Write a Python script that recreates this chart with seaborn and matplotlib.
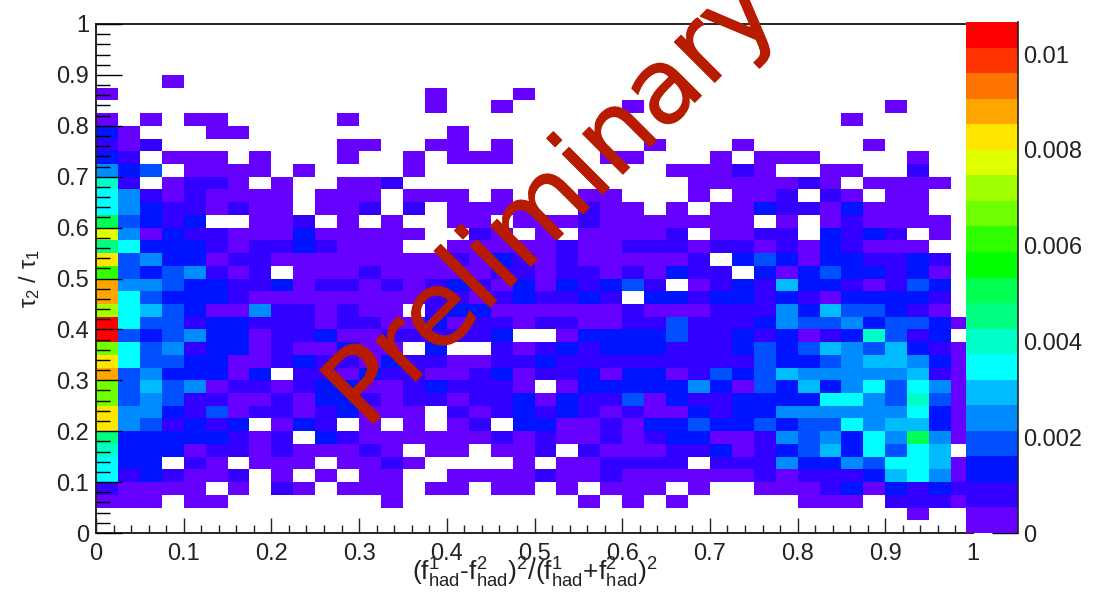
import numpy as np
import matplotlib
matplotlib.use('Agg')
import matplotlib.pyplot as plt
import matplotlib.patheffects as pe
from matplotlib.colors import ListedColormap
import seaborn as sns

# --- DATA ---
# colour band of each bin, top row of the plot first, 40 x 40 bins
# '.' = empty bin, 0-9 and a-j = band 0 to 19 of the palette
level_rows = [
    "." * 40,
    "." * 40,
    "." * 40,
    "." * 40,
    "...0......" ".........." ".........." "..........",
    "0........." ".....0...0" ".........." "..........",
    ".........." ".....0..0." "....0....." "......0...",
    "0.0.00...." ".0........" ".........." "....0.....",
    "20...00..." "......0..." ".........." "..........",
    "101......." ".00..00.0." ".....0...0" ".....0....",
    "21.000.0.." ".0..0.000." "...00...0." "000....0..",
    "423.0000.0" "....0....." "......0001" "0..00..1..",
    "71.0110.0." ".001......" ".......000" "0010.0000.",
    "641010000." "000.000.0." "..00...0.0" "01.10.00..",
    "642110100." "001.1.0000" "..100.0.00" "21102000..",
    "93212..001" ".0.0..00.0" "0010000000" ".0.010000.",
    "e402110002" "00000..10." "0.00001.00" "11.2121.0.",
    "8622210112" "1000..0000" "0100111011" "01021000..",
    "f342201100" "0000001021" "01000001.2" "320221121.",
    "b3234101.0" "0010000011" "011010211." "202322120.",
    "g443221120" "1101012102" "021231.012" "152210132.",
    "g632221000" "0000011012" "1121.22122" "121022221.",
    "d653200411" "0100.12200" "0000100011" "142533210.",
    "j633122111" "0110020110" "1100113111" "2433423320",
    "j323422011" "200111112." ".022223112" "120127312.",
    "c634122010" "0200.2..10" "1212221112" "3235435210",
    "f633220012" "1102110011" "2111111111" "3223455420",
    "g3422202.1" "1021100120" "1120220132" "3544444510",
    "c353401101" "2200121110" ".022222420" "3252463640",
    "c343110010" "2210110112" "0211302112" "2226643730",
    "f442130110" "12000.1012" "1210100212" "2444444620",
    "f431212.02" "1.0.0.01.2" "2001022322" "3233645520",
    "822222101." "2100000010" "1001012200" "1434264940",
    "7222011010" "0010.00.00" "1.10001120" "123526365.",
    "622.10.000" ".0010....0" ".001111.11" "1422436650",
    "6121001.0." "0.00..0000" "1001000000" "1011125640",
    "10000.0.10" ".000.00.00" ".0.000.0.." "0001202121",
    "000.00...." "...0......" "..0.0.0..." "..000.1110",
    ".........." ".........." ".........." ".......0..",
    "." * 40,
]
palette = [
    "#6600ff", "#3300ff", "#0014ff", "#0050ff", "#008cff",
    "#00bcff", "#00ffff", "#00ffc8", "#00ff80", "#00ff50",
    "#00ff00", "#30ff00", "#70ff00", "#a0ff00", "#e0ff00",
    "#ffe600", "#ffa500", "#ff7400", "#ff3300", "#ff0000",
]
z_max = 0.01067
axis_ticks = [0, 0.1, 0.2, 0.3, 0.4, 0.5, 0.6, 0.7, 0.8, 0.9, 1]
axis_labels = ["0", "0.1", "0.2", "0.3", "0.4", "0.5", "0.6", "0.7", "0.8", "0.9", "1"]
minor_ticks = [i / 50 for i in range(51) if i % 5 != 0]
z_ticks = [0, 0.002, 0.004, 0.006, 0.008, 0.01]
z_labels = ["0", "0.002", "0.004", "0.006", "0.008", "0.01"]

# --- STYLE ---
sns.set_style('white')
plt.rcParams['font.family'] = ['Liberation Sans', 'DejaVu Sans']
plt.rcParams['mathtext.fontset'] = 'custom'
plt.rcParams['mathtext.rm'] = 'Liberation Sans'
plt.rcParams['mathtext.it'] = 'Liberation Sans'
plt.rcParams['mathtext.bf'] = 'Liberation Sans'
plt.rcParams['mathtext.fallback'] = 'stixsans'
plt.rcParams['mathtext.default'] = 'regular'

W, H = 1094, 595
DARK = '#222222'
RED = '#b71c00'

# --- HEATMAP ---
codes = "0123456789abcdefghij"
band = z_max / len(palette)
z = np.array([[np.nan if c == '.' else (codes.index(c) + 0.5) * band for c in row]
              for row in level_rows])

fig = plt.figure(figsize=(W / 100, H / 100), dpi=100)
ax = fig.add_axes([96 / W, 1 - 533 / H, 877 / W, 509 / H])
cax = fig.add_axes([966 / W, 1 - 533 / H, 52 / W, 511 / H])

sns.heatmap(z, ax=ax, cbar_ax=cax, cmap=ListedColormap(palette), vmin=0, vmax=z_max,
            xticklabels=False, yticklabels=False,
            cbar_kws={'ticks': z_ticks})

# --- AXES ---
ax.set_axisbelow(False)
for name, spine in ax.spines.items():
    spine.set_visible(name != 'right')
    spine.set_color(DARK)
    spine.set_linewidth(1.4)

ax.set_xticks([40 * v for v in axis_ticks])
ax.set_xticklabels(axis_labels, fontsize=17, color=DARK)
ax.set_xticks([40 * v for v in minor_ticks], minor=True)
ax.set_yticks([40 * (1 - v) for v in axis_ticks])
ax.set_yticklabels(axis_labels, fontsize=17, color=DARK, rotation=0)
ax.set_yticks([40 * (1 - v) for v in minor_ticks], minor=True)
ax.tick_params(axis='x', which='major', bottom=True, direction='in', length=11, width=1, color=DARK, pad=7)
ax.tick_params(axis='x', which='minor', bottom=True, direction='in', length=5.5, width=1, color=DARK)
ax.tick_params(axis='y', which='major', left=True, direction='in', length=19, width=1, color='black', pad=5)
ax.tick_params(axis='y', which='minor', left=True, direction='in', length=10, width=1, color='black')

fig.text(535 / W, 1 - 573 / H,
         r'$(f^{1}_{had}$-$f^{2}_{had})^{2}/(f^{1}_{had}$+$f^{2}_{had})^{2}$',
         fontsize=19, color=DARK, ha='center', va='center')
fig.text(30 / W, 1 - 278 / H, r'$\tau_{2}$ / $\tau_{1}$',
         fontsize=17, color=DARK, rotation=90, ha='center', va='center')

# --- COLOUR BAR ---
cbar = ax.collections[0].colorbar
cbar.set_ticklabels(z_labels)
cbar.ax.tick_params(axis='y', right=True, direction='in', length=19, width=1, color='black',
                    labelsize=17, labelcolor=DARK, pad=4)
cbar.outline.set_visible(False)
cax.spines['right'].set_visible(True)
cax.spines['right'].set_color(DARK)
cax.spines['right'].set_linewidth(1.2)
cax.set_zorder(3)

# --- WATERMARK ---
fig.text(366 / W, 1 - 431 / H, 'Preliminary', fontsize=75, color=RED,
         family='DejaVu Sans', rotation=45, rotation_mode='anchor',
         ha='left', va='baseline', zorder=5,
         path_effects=[pe.withStroke(linewidth=0.8, foreground=RED)])

fig.savefig('out.png', dpi=100)
